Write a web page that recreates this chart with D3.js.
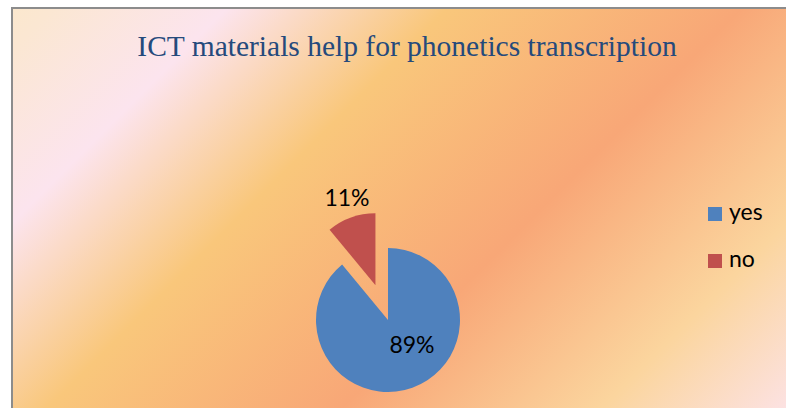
<!DOCTYPE html>
<html>
<head>
<meta charset="utf-8">
<script src="https://cdn.jsdelivr.net/npm/d3@7"></script>
<style>
html,body{margin:0;padding:0;background:#fff;}
svg{display:block;}
</style>
</head>
<body>
<svg id="chart" width="786" height="408"></svg>
<script>
const title = "ICT materials help for phonetics transcription";
const categories = ["yes", "no"];
const values = [89, 11];
const labels = ["89%", "11%"];
const colors = ["#4f81bd", "#c0504d"];

const svg = d3.select("#chart");
const W = 786, H = 408;

// background gradient
const defs = svg.append("defs");
const grad = defs.append("linearGradient")
  .attr("id", "bg").attr("gradientUnits", "userSpaceOnUse")
  .attr("x1", 0).attr("y1", 0).attr("x2", 600).attr("y2", 600);
const stops = [
  [0, "#fbe8cb"], [60, "#fbe7d2"], [235, "#fce4ee"], [455, "#f9c77b"], [750, "#f8a777"],
  [1010, "#fbd59e"], [1200, "#fce2e4"]
];
stops.forEach(([s, c]) => grad.append("stop").attr("offset", (s / 1200)).attr("stop-color", c));

svg.append("rect")
  .attr("x", 12).attr("y", 8).attr("width", W + 20).attr("height", H + 20)
  .attr("fill", "url(#bg)").attr("stroke", "#8c8c8c").attr("stroke-width", 2);

// title
svg.append("text")
  .attr("x", 407).attr("y", 56)
  .attr("text-anchor", "middle")
  .attr("font-family", "'Liberation Serif', 'Times New Roman', serif")
  .attr("font-size", 29.5)
  .attr("fill", "#254a7c")
  .text(title);

// pie
const cx = 388, cy = 320, r = 72, explode = 37;
const pie = d3.pie().sort(null).value(d => d)(values);
const arc = d3.arc().innerRadius(0).outerRadius(r);
const g = svg.append("g").attr("transform", `translate(${cx},${cy})`);

g.selectAll("path").data(pie).join("path")
  .attr("d", arc)
  .attr("fill", (d, i) => colors[i])
  .attr("transform", (d, i) => {
    if (i === 1) {
      const a = (d.startAngle + d.endAngle) / 2;
      return `translate(${explode * Math.sin(a)},${-explode * Math.cos(a)})`;
    }
    return null;
  });

// labels (inside for the large slice, outside for the exploded one)
const labelOffset = [[24, 33], [-41, -114]];
g.selectAll("text.lbl").data(pie).join("text")
  .attr("class", "lbl")
  .attr("text-anchor", "middle")
  .attr("font-family", "Lato, 'Open Sans', sans-serif")
  .attr("font-size", 23)
  .attr("fill", "#000")
  .attr("x", (d, i) => labelOffset[i][0])
  .attr("y", (d, i) => labelOffset[i][1])
  .text((d, i) => labels[i]);

// legend
const lg = svg.append("g").attr("transform", "translate(708,207)");
const item = lg.selectAll("g").data(categories).join("g")
  .attr("transform", (d, i) => `translate(0,${i * 47})`);
item.append("rect").attr("width", 14).attr("height", 14)
  .attr("fill", (d, i) => colors[i]);
item.append("text").attr("x", 21).attr("y", 13)
  .attr("font-family", "Lato, 'Open Sans', sans-serif")
  .attr("font-size", 23).attr("fill", "#000")
  .text(d => d);
</script>
</body>
</html>
